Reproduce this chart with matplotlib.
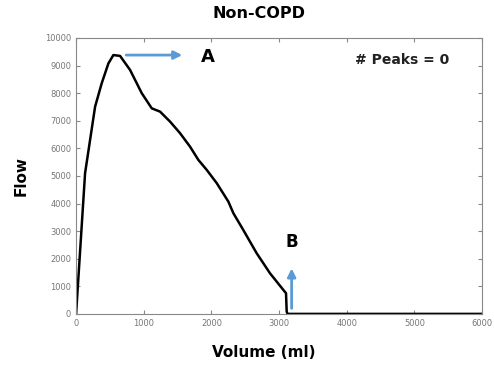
import numpy as np
import matplotlib
matplotlib.use("Agg")
import matplotlib.pyplot as plt

# flow-volume curve
volume = [0, 133, 281, 379, 478, 551, 650, 798, 970, 1118, 1241, 1388, 1536, 1684,
          1807, 1930, 2078, 2250, 2324, 2471, 2668, 2866, 3062, 3102, 3112, 3125, 6000]
flow = [0, 5100, 7510, 8360, 9080, 9380, 9350, 8840, 8000, 7450, 7330, 6970, 6550, 6060,
        5580, 5220, 4740, 4070, 3650, 3040, 2200, 1470, 870, 750, 80, 0, 0]

xticks = [0, 1000, 2000, 3000, 4000, 5000, 6000]
yticks = [0, 1000, 2000, 3000, 4000, 5000, 6000, 7000, 8000, 9000, 10000]

blue = "#5b9bd5"

fig = plt.figure(figsize=(4.94, 3.65), dpi=100)
ax = fig.add_axes([0.154, 0.14, 0.822, 0.756])
ax.plot(volume, flow, color="black", lw=1.8)
ax.set_xlim(0, 6000)
ax.set_ylim(0, 10000)
ax.set_xticks(xticks)
ax.set_yticks(yticks)
ax.tick_params(direction="in", top=True, right=True, labelsize=6,
               labelcolor="#777777", color="#888888", length=3)
for s in ax.spines.values():
    s.set_color("#888888")

# title and x label sit a bit left of the axes centre in the original
fig.text(0.524, 0.962, "Non-COPD", fontsize=11.5, fontweight="bold", ha="center", va="center")
fig.text(0.534, 0.035, "Volume (ml)", fontsize=11, fontweight="bold", ha="center", va="center")
ax.set_ylabel("Flow", fontsize=11, fontweight="bold", labelpad=12)

# annotations
ax.annotate("", xy=(1610, 9380), xytext=(700, 9380),
            arrowprops=dict(arrowstyle="-|>", color=blue, lw=2, mutation_scale=12))
ax.text(1950, 9320, "A", fontsize=13, fontweight="bold", va="center", ha="center")
ax.annotate("", xy=(3185, 1750), xytext=(3185, 100),
            arrowprops=dict(arrowstyle="-|>", color=blue, lw=2, mutation_scale=12))
ax.text(3185, 2600, "B", fontsize=12, fontweight="bold", va="center", ha="center")
ax.text(4820, 9200, "# Peaks = 0", fontsize=10, fontweight="bold", va="center",
        ha="center", color="#222222")

fig.savefig("out.png", dpi=100)
